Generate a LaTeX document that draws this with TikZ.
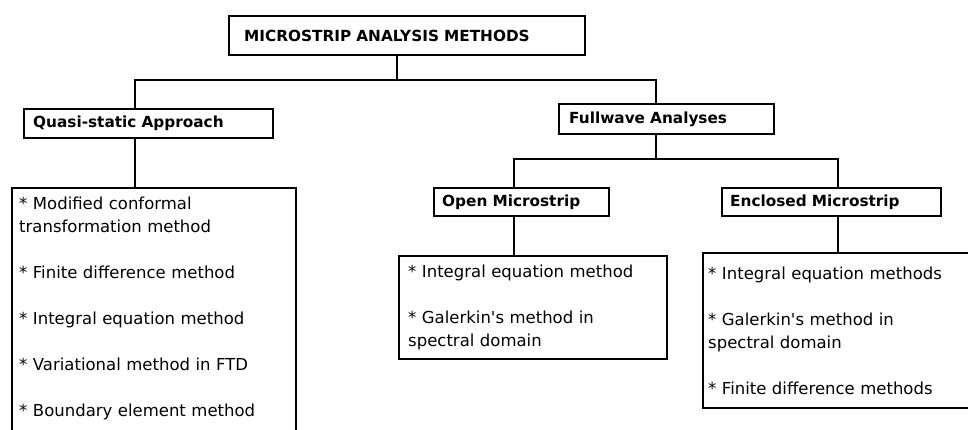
\documentclass[tikz,border=0pt]{standalone}
\usepackage{fontspec}
\setmainfont{DejaVu Sans}
\begin{document}
\begin{tikzpicture}[x=1pt,y=-1pt,
  box/.style={draw, line width=2.4pt, anchor=north west, align=left, inner ysep=0pt},
  hdr/.style={box, font=\bfseries\fontsize{15.3}{18}\selectfont},
  lst/.style={box, font=\fontsize{16.5}{23}\selectfont},
  wire/.style={line width=2.4pt}]
\clip (0,0) rectangle (968,429);
\fill[white] (0,0) rectangle (968,429);
% header boxes
\node[hdr, inner xsep=15pt, text width=326pt, minimum height=39pt] (top) at (228,15) {MICROSTRIP ANALYSIS METHODS};
\node[hdr, inner xsep=9pt, text width=231pt, minimum height=29pt] (quasi) at (23,108) {Quasi-static Approach};
\node[hdr, inner xsep=10pt, text width=195pt, minimum height=30pt] (full) at (558,103) {Fullwave Analyses};
\node[hdr, inner xsep=8pt, text width=159pt, minimum height=28pt] (open) at (433,187) {Open Microstrip};
\node[hdr, inner xsep=8pt, text width=203pt, minimum height=28pt] (encl) at (721,187) {Enclosed Microstrip};
% list boxes
\node[lst, inner xsep=7pt, text width=270pt, minimum height=284pt] (qlist) at (11,187)
  {{*} Modified conformal\\ transformation method\\[23pt]{*} Finite difference method\\[23pt]{*} Integral equation method\\[23pt]{*} Variational method in FTD\\[23pt]{*} Boundary element method\\[23pt]\mbox{}};
\node[lst, inner xsep=9pt, text width=250pt, minimum height=103pt] (olist) at (398,255)
  {{*} Integral equation method\\[23pt]{*} Galerkin\textquotesingle s method in\\ spectral domain};
\node[lst, inner xsep=5pt, text width=270pt, minimum height=155pt] (elist) at (702,252)
  {{*} Integral equation methods\\[23pt]{*} Galerkin\textquotesingle s method in\\ spectral domain\\[23pt]{*} Finite difference methods};
% junction coordinates
\coordinate (cT) at (397,80);
\coordinate (cQ) at (135,80);
\coordinate (cF) at (656,80);
\coordinate (cF2) at (656,159);
\coordinate (cO) at (514,159);
\coordinate (cE) at (838,159);
% connectors
\draw[wire] (top.south -| cT) -- (cT);
\draw[wire] (quasi.north -| cQ) |- (cF) -- (full.north -| cF);
\draw[wire] (quasi.south -| cQ) -- (qlist.north -| cQ);
\draw[wire] (full.south -| cF2) -- (cF2);
\draw[wire] (open.north -| cO) |- (cE) -- (encl.north -| cE);
\draw[wire] (open.south -| cO) -- (olist.north -| cO);
\draw[wire] (encl.south -| cE) -- (elist.north -| cE);
\end{tikzpicture}
\end{document}
